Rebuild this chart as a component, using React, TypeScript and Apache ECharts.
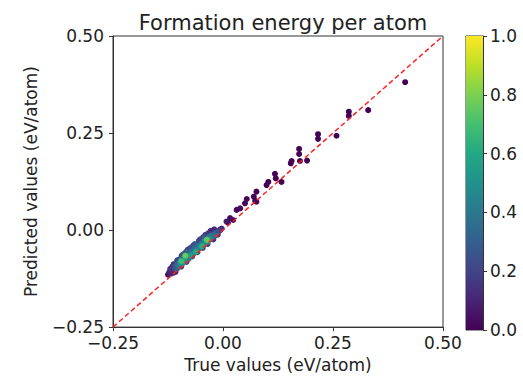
import React, { useEffect, useRef } from 'react';
import * as echarts from 'echarts';

const xTrue = [
  -0.125, -0.122, -0.118, -0.115, -0.112, -0.120, -0.115, -0.110, -0.108, -0.108,
  -0.105, -0.103, -0.100, -0.100, -0.098, -0.095, -0.095, -0.093, -0.090, -0.090,
  -0.088, -0.086, -0.085, -0.083, -0.082, -0.080, -0.080, -0.078, -0.076, -0.074,
  -0.072, -0.070, -0.070, -0.068, -0.068, -0.066, -0.064, -0.062, -0.060, -0.058,
  -0.058, -0.055, -0.055, -0.053, -0.050, -0.048, -0.046, -0.045, -0.045, -0.043,
  -0.040, -0.037, -0.035, -0.035, -0.033, -0.032, -0.030, -0.027, -0.024, -0.022,
  -0.020, -0.020, -0.017, -0.014, -0.012, -0.010, -0.006, -0.003,
  -0.112, -0.104, -0.094, -0.084, -0.074, -0.064, -0.052, -0.040, -0.028,
  -0.096, -0.078, -0.060, -0.042,
  0.008, -0.007, 0.011, 0.016, 0.023, 0.031, 0.039, 0.050, 0.054, 0.070,
  0.076, 0.073, 0.076, 0.099, 0.103, 0.118, 0.120, 0.133, 0.156, 0.154,
  0.173, 0.173, 0.175, 0.191, 0.216, 0.216, 0.258, 0.286, 0.286, 0.330, 0.414,
];

const yPred = [
  -0.115, -0.108, -0.112, -0.104, -0.110, -0.100, -0.094, -0.098, -0.092, -0.108,
  -0.100, -0.088, -0.094, -0.076, -0.084, -0.080, -0.094, -0.088, -0.074, -0.062,
  -0.082, -0.066, -0.076, -0.082, -0.070, -0.062, -0.050, -0.074, -0.060, -0.066,
  -0.056, -0.062, -0.068, -0.052, -0.040, -0.060, -0.048, -0.056, -0.044, -0.050,
  -0.057, -0.040, -0.028, -0.046, -0.036, -0.042, -0.046, -0.030, -0.018, -0.038,
  -0.026, -0.025, -0.030, -0.036, -0.008, -0.018, -0.024, -0.014, -0.018, -0.024,
  -0.010, 0.002, -0.014, -0.006, -0.012, -0.004, 0.000, 0.004,
  -0.088, -0.078, -0.066, -0.056, -0.046, -0.036, -0.024, -0.012, -0.002,
  -0.074, -0.058, -0.040, -0.022,
  0.022, 0.001, 0.020, 0.031, 0.026, 0.052, 0.056, 0.069, 0.080, 0.086,
  0.099, 0.075, 0.073, 0.116, 0.124, 0.145, 0.133, 0.124, 0.178, 0.172,
  0.209, 0.196, 0.178, 0.179, 0.247, 0.235, 0.243, 0.305, 0.294, 0.309, 0.381,
];

const density = [
  0.05, 0.08, 0.10, 0.12, 0.10, 0.15, 0.15, 0.22, 0.28, 0.10,
  0.30, 0.35, 0.40, 0.20, 0.50, 0.68, 0.15, 0.45, 0.40, 0.25,
  0.55, 0.76, 0.50, 0.20, 0.45, 0.35, 0.20, 0.40, 0.30, 0.55,
  0.35, 0.45, 0.20, 0.30, 0.25, 0.40, 0.35, 0.60, 0.30, 0.40,
  0.25, 0.35, 0.20, 0.45, 0.40, 0.62, 0.20, 0.35, 0.20, 0.50,
  0.45, 0.75, 0.55, 0.20, 0.15, 0.40, 0.50, 0.35, 0.40, 0.15,
  0.30, 0.12, 0.35, 0.25, 0.10, 0.20, 0.15, 0.12,
  0.12, 0.18, 0.22, 0.25, 0.22, 0.25, 0.20, 0.18, 0.12,
  0.30, 0.35, 0.30, 0.28,
  0.05, 0.10, 0.03, 0.03, 0.03, 0.02, 0.02, 0.02, 0.01, 0.01,
  0.01, 0.01, 0.01, 0.0, 0.0, 0.0, 0.0, 0.0, 0.0, 0.0,
  0.0, 0.0, 0.0, 0.0, 0.0, 0.0, 0.0, 0.0, 0.0, 0.0, 0.0,
];

const axisMin = -0.25;
const axisMax = 0.5;
const axisStep = 0.25;
const diagonal = [axisMin, axisMax];
const colorMin = 0;
const colorMax = 1;
const colorStep = 0.2;

const viridis = [
  '#440154', '#482475', '#414487', '#355f8d', '#2a788e', '#21918c',
  '#22a884', '#44bf70', '#7ad151', '#bddf26', '#fde725',
];

const FONT = 'DejaVu Sans';
const TXT = '#222';

const fmt2 = (v: number) => (v < 0 ? '\u2212' + Math.abs(v).toFixed(2) : v.toFixed(2));

export default function App() {
  const ref = useRef<HTMLDivElement>(null);
  useEffect(() => {
    const chart = echarts.init(ref.current!, null, { renderer: 'svg' });
    const pts = xTrue
      .map((x, i) => [x, yPred[i], density[i]])
      .sort((a, b) => a[2] - b[2]);
    const grad = new echarts.graphic.LinearGradient(
      0, 1, 0, 0,
      viridis.map((c, i) => ({ offset: i / (viridis.length - 1), color: c }))
    );
    const axisCommon = {
      axisLine: { show: true, onZero: false, lineStyle: { color: '#333' } },
      axisTick: { show: true, inside: false, length: 4, lineStyle: { color: '#333' } },
      splitLine: { show: false },
    };
    chart.setOption({
      animation: false,
      backgroundColor: '#fff',
      title: {
        text: 'Formation energy per atom',
        left: 278,
        textAlign: 'center',
        top: 7,
        textStyle: { fontFamily: FONT, fontSize: 21, fontWeight: 'normal', color: TXT },
      },
      grid: [
        { left: 113, top: 36, width: 330, height: 294, show: true, borderColor: '#333', borderWidth: 1, backgroundColor: 'transparent' },
        { left: 466, top: 36, width: 17, height: 294, show: true, borderColor: '#333', borderWidth: 1, backgroundColor: 'transparent' },
      ],
      xAxis: [
        {
          type: 'value', gridIndex: 0, min: axisMin, max: axisMax, interval: axisStep,
          name: 'True values (eV/atom)', nameLocation: 'middle', nameGap: 28,
          nameTextStyle: { fontFamily: FONT, fontSize: 17, color: TXT },
          axisLabel: { fontFamily: FONT, fontSize: 17, color: TXT, margin: 7, formatter: fmt2 },
          ...axisCommon,
        },
        {
          type: 'category', gridIndex: 1, data: ['cb'], show: false, boundaryGap: true,
        },
      ],
      yAxis: [
        {
          type: 'value', gridIndex: 0, min: axisMin, max: axisMax, interval: axisStep,
          name: 'Predicted values (eV/atom)', nameLocation: 'middle', nameGap: 74,
          nameTextStyle: { fontFamily: FONT, fontSize: 17, color: TXT },
          axisLabel: { fontFamily: FONT, fontSize: 17, color: TXT, margin: 9, formatter: fmt2 },
          ...axisCommon,
        },
        {
          type: 'value', gridIndex: 1, position: 'right', min: colorMin, max: colorMax, interval: colorStep,
          axisLabel: { fontFamily: FONT, fontSize: 17, color: TXT, margin: 7, formatter: (v: number) => v.toFixed(1) },
          ...axisCommon,
        },
      ],
      visualMap: {
        show: false, type: 'continuous', dimension: 2, min: colorMin, max: colorMax,
        seriesIndex: 0, inRange: { color: viridis },
      },
      series: [
        {
          type: 'scatter', xAxisIndex: 0, yAxisIndex: 0, data: pts, symbolSize: 6,
          itemStyle: { opacity: 1 }, z: 2,
        },
        {
          type: 'line', xAxisIndex: 0, yAxisIndex: 0, data: diagonal.map((v) => [v, v]),
          symbol: 'none', lineStyle: { color: '#ff2020', width: 1.5, type: [5, 3] }, z: 3,
        },
        {
          type: 'bar', xAxisIndex: 1, yAxisIndex: 1, data: [colorMax], barWidth: '100%',
          itemStyle: { color: grad }, z: 1,
        },
      ],
    });
    return () => chart.dispose();
  }, []);
  return <div ref={ref} style={{ position: 'fixed', left: 0, top: 0, width: 523, height: 378 }} />;
}
